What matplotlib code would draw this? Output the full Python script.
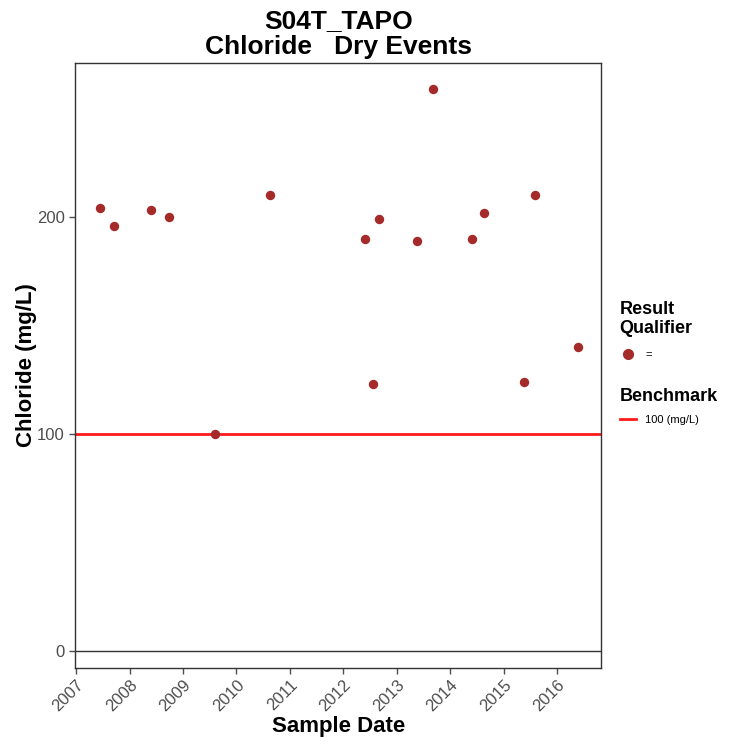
import datetime as dt
import matplotlib
matplotlib.use("Agg")
from matplotlib import pyplot as plt
import matplotlib.dates as mdates
from matplotlib.lines import Line2D

plt.rcParams['font.family'] = ['Liberation Sans', 'DejaVu Sans']

# sample dates and chloride results (mg/L)
sample_dates = ['2007-06-10', '2007-09-15', '2008-05-25', '2008-09-25', '2009-08-10',
                '2010-08-20', '2012-05-25', '2012-07-20', '2012-08-30', '2013-05-22',
                '2013-09-08', '2014-05-30', '2014-08-18', '2015-05-22', '2015-08-05',
                '2016-05-22']
chloride = [204, 196, 203, 200, 100, 210, 190, 123, 199, 189, 259, 190, 202, 124, 210, 140]
benchmark = 100
year_ticks = list(range(2007, 2017))

dates = [dt.datetime.strptime(d, '%Y-%m-%d') for d in sample_dates]

fig = plt.figure(figsize=(7.29, 7.46), dpi=100)
ax = fig.add_axes([0.103, 0.105, 0.722, 0.811])

ax.axhline(0, color='#333333', lw=1.0, zorder=1)
ax.axhline(benchmark, color='#FF1A1A', lw=2.0, zorder=2)
ax.scatter(dates, chloride, s=46, color='#A52A2A', zorder=3, linewidths=0)

ax.set_xlim(dt.datetime(2006, 12, 25), dt.datetime(2016, 10, 30))
ax.set_ylim(-7.5, 271)
ax.set_yticks([0, 100, 200])
ax.set_xticks([dt.datetime(y, 1, 1) for y in year_ticks])
ax.xaxis.set_major_formatter(mdates.DateFormatter('%Y'))

for lab in ax.get_xticklabels():
    lab.set_rotation(45)
    lab.set_ha('right')
    lab.set_rotation_mode('anchor')
ax.tick_params(axis='both', colors='#4D4D4D', labelsize=12, length=4, width=1, direction='out')
ax.tick_params(axis='x', pad=3)
for s in ax.spines.values():
    s.set_color('#333333')
    s.set_linewidth(1.0)

ax.set_xlabel('Sample Date', fontsize=16, fontweight='bold', labelpad=1)
ax.set_ylabel('Chloride (mg/L)', fontsize=16, fontweight='bold', labelpad=0)
ax.set_title('S04T_TAPO\nChloride   Dry Events', fontsize=19, fontweight='bold',
             linespacing=1.1, pad=6)

# legends
h1 = [Line2D([], [], marker='o', ls='', color='#A52A2A', markersize=7)]
leg1 = fig.legend(h1, ['='], title='Result\nQualifier', loc='upper left',
                  bbox_to_anchor=(0.847, 0.600), frameon=False, fontsize=8,
                  title_fontproperties={'weight': 'bold', 'size': 13},
                  handlelength=1.5, borderaxespad=0, borderpad=0.2)
leg1._legend_box.align = 'left'
leg1._legend_box.sep = 9
h2 = [Line2D([], [], color='#FF1A1A', lw=2)]
leg2 = fig.legend(h2, ['100 (mg/L)'], title='Benchmark', loc='upper left',
                  bbox_to_anchor=(0.847, 0.483), frameon=False, fontsize=8,
                  title_fontproperties={'weight': 'bold', 'size': 13},
                  handlelength=1.5, borderaxespad=0, borderpad=0.2)
leg2._legend_box.align = 'left'
leg2._legend_box.sep = 7

fig.savefig('out.png', dpi=100, facecolor='white')
